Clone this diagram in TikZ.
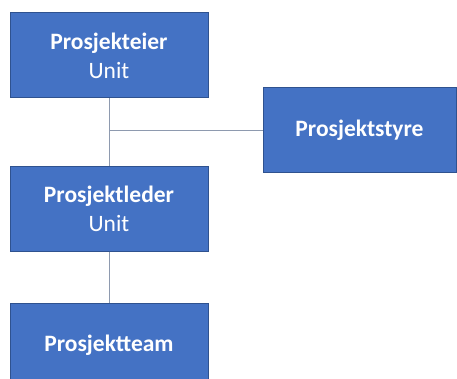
\documentclass[tikz,border=0pt]{standalone}
\usepackage{fontspec}
\setmainfont{Carlito}
\definecolor{boxblue}{HTML}{4472C4}
\definecolor{boxedge}{HTML}{2F528F}
\definecolor{linegray}{HTML}{8E9AAF}

\begin{document}
\begin{tikzpicture}[
	x=1pt, y=-1pt,
	unit/.style={draw=boxedge, fill=boxblue, text=white, line width=1pt,
		minimum width=198pt, minimum height=85pt, inner sep=0pt,
		align=center, font=\fontsize{23.5}{29}\selectfont},
	link/.style={linegray, line width=1pt}
	]
\clip (0,0) rectangle (457,379);

\node[unit] at (109,55.5) (eier){\textbf{Prosjekteier}\\Unit};
\node[unit, minimum width=193pt] at (359.5,130.5) (styre){\textbf{Prosjektstyre}};
\node[unit, minimum height=84pt] at (109,209) (leder){\textbf{Prosjektleder}\\Unit};
\node[unit] at (109,345.5) (team){\textbf{Prosjektteam}};

\draw[link] (eier) -- (leder);
\draw[link] (leder) -- (team);
\draw[link] (styre.west) -- (styre.west -| eier.south);

\end{tikzpicture}
\end{document}
